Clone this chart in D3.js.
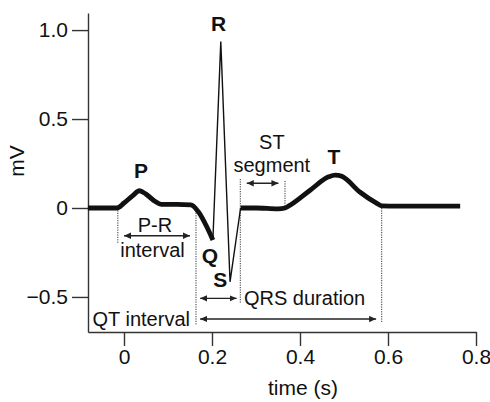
<!DOCTYPE html>
<html>
<head>
<meta charset="utf-8">
<script src="https://cdn.jsdelivr.net/npm/d3@7"></script>
<style>
  html, body { margin: 0; padding: 0; background: #fff; }
  svg { display: block; }
  text { font-family: "Liberation Sans", Arial, Helvetica, sans-serif; fill: #111; }
</style>
</head>
<body>
<svg id="chart" width="490" height="402"></svg>
<script>
// ---- data ----
// P wave + PR segment + Q descent (thick trace)
const pqTime = [-0.082, -0.016, 0.0, 0.02, 0.035, 0.05, 0.07, 0.085, 0.12, 0.152, 0.17, 0.187, 0.202];
const pqMv   = [0, 0, 0.028, 0.07, 0.097, 0.078, 0.038, 0.02, 0.02, 0.018, -0.025, -0.1, -0.18];
// QRS complex (thin trace)
const qrsTime = [0.202, 0.22, 0.241, 0.265];
const qrsMv   = [-0.18, 0.935, -0.415, 0.0];
// ST segment + T wave (thick trace)
const stTime = [0.265, 0.3, 0.35, 0.366, 0.38, 0.423, 0.465, 0.48, 0.495, 0.536, 0.572, 0.586, 0.62, 0.764];
const stMv   = [0.0, 0.0, -0.005, 0.0, 0.02, 0.1, 0.175, 0.185, 0.178, 0.09, 0.03, 0.012, 0.01, 0.01];

const xTicks = [0, 0.2, 0.4, 0.6, 0.8];
const xTickLabels = ["0", "0.2", "0.4", "0.6", "0.8"];
const yTicks = [-0.5, 0, 0.5, 1.0];
const yTickLabels = ["\u22120.5", "0", "0.5", "1.0"];

// wave labels
const waveNames = ["P", "Q", "R", "S", "T"];
const waveTime  = [0.0386, 0.1955, 0.2148, 0.219, 0.477];
const waveMv    = [0.169, -0.309, 0.995, -0.444, 0.247];

// dotted markers (time, top mV, bottom mV)
const markTime   = [-0.014, 0.1636, 0.2643, 0.3659, 0.5857];
const markTopMv  = [0, 0, 0.163, 0.152, 0];
const markBotMv  = [-0.197, -0.658, -0.534, 0, -0.646];

// interval arrows (start time, end time, mV level)
const arrowStart = [0.0, 0.279, 0.173, 0.173];
const arrowEnd   = [0.15, 0.351, 0.256, 0.573];
const arrowMv    = [-0.156, 0.139, -0.508, -0.624];

// ---- drawing ----
const svg = d3.select("#chart");
const x = d3.scaleLinear().domain([-0.0818, 0.8]).range([88, 476]);
const y = d3.scaleLinear().domain([-0.697, 1.096]).range([332, 13]);

const axisColor = "#333";
const FS = 21;   // tick labels, axis titles
const FA = 20;   // annotations

// axes
const gx = svg.append("g").attr("transform", `translate(0,${y.range()[0]})`)
  .call(d3.axisBottom(x).tickValues(xTicks).tickFormat((d, i) => xTickLabels[i])
    .tickSize(14).tickSizeOuter(0).tickPadding(3));
const gy = svg.append("g").attr("transform", `translate(${x.range()[0]},0)`)
  .call(d3.axisLeft(y).tickValues(yTicks).tickFormat((d, i) => yTickLabels[i])
    .tickSize(16).tickSizeOuter(0).tickPadding(4));
[gx, gy].forEach(g => {
  g.select(".domain").attr("stroke", axisColor).attr("stroke-width", 1.4);
  g.selectAll(".tick line").attr("stroke", axisColor).attr("stroke-width", 1.4);
  g.selectAll(".tick text").attr("font-size", FS).attr("fill", "#111")
    .attr("font-family", '"Liberation Sans", Arial, Helvetica, sans-serif');
});

// axis titles
svg.append("text").attr("x", 303).attr("y", 395).attr("text-anchor", "middle")
  .attr("font-size", FS).text("time (s)");
svg.append("text").attr("transform", "translate(24,161) rotate(-90)")
  .attr("text-anchor", "middle").attr("font-size", FS).text("mV");

// dotted markers
svg.append("g").selectAll("line").data(markTime).join("line")
  .attr("x1", d => x(d)).attr("x2", d => x(d))
  .attr("y1", (d, i) => y(markTopMv[i])).attr("y2", (d, i) => y(markBotMv[i]))
  .attr("stroke", "#333").attr("stroke-width", 1).attr("stroke-dasharray", "1.2,1.2");

// arrow marker
const defs = svg.append("defs");
defs.append("marker").attr("id", "ah").attr("viewBox", "0 0 10 10")
  .attr("refX", 10).attr("refY", 5).attr("markerWidth", 7).attr("markerHeight", 7)
  .attr("markerUnits", "userSpaceOnUse").attr("orient", "auto-start-reverse")
  .append("path").attr("d", "M0,0.5 L10,5 L0,9.5 Z").attr("fill", "#222");

svg.append("g").selectAll("line").data(arrowStart).join("line")
  .attr("x1", d => x(d)).attr("x2", (d, i) => x(arrowEnd[i]))
  .attr("y1", (d, i) => y(arrowMv[i])).attr("y2", (d, i) => y(arrowMv[i]))
  .attr("stroke", "#222").attr("stroke-width", 1.3)
  .attr("marker-start", "url(#ah)").attr("marker-end", "url(#ah)");

// traces
const line = d3.line().x(d => x(d[0])).y(d => y(d[1]));
const smooth = d3.line().x(d => x(d[0])).y(d => y(d[1])).curve(d3.curveMonotoneX);
const zipP = (t, v) => t.map((d, i) => [d, v[i]]);

svg.append("path").datum(zipP(qrsTime, qrsMv)).attr("d", line)
  .attr("fill", "none").attr("stroke", "#111").attr("stroke-width", 1.4).attr("stroke-linejoin", "miter");
svg.append("path").datum(zipP(pqTime, pqMv)).attr("d", smooth)
  .attr("fill", "none").attr("stroke", "#111").attr("stroke-width", 4.8)
  .attr("stroke-linejoin", "round").attr("stroke-linecap", "butt");
svg.append("path").datum(zipP(stTime, stMv)).attr("d", smooth)
  .attr("fill", "none").attr("stroke", "#111").attr("stroke-width", 4.8)
  .attr("stroke-linejoin", "round").attr("stroke-linecap", "butt");

// wave labels
svg.append("g").selectAll("text").data(waveNames).join("text")
  .attr("x", (d, i) => x(waveTime[i])).attr("y", (d, i) => y(waveMv[i]))
  .attr("text-anchor", "middle").attr("font-size", FS).attr("font-weight", "bold").text(d => d);

// interval labels
const ann = [
  { t: "ST", tx: 0.336, mv: 0.332, anchor: "middle" },
  { t: "segment", tx: 0.336, mv: 0.202, anchor: "middle" },
  { t: "P-R", tx: 0.0705, mv: -0.135, anchor: "middle" },
  { t: "interval", tx: 0.0648, mv: -0.273, anchor: "middle" },
  { t: "QRS duration", tx: 0.2727, mv: -0.545, anchor: "start" },
  { t: "QT interval", tx: 0.15, mv: -0.663, anchor: "end" }
];
svg.append("g").selectAll("text").data(ann).join("text")
  .attr("x", d => x(d.tx)).attr("y", d => y(d.mv))
  .attr("text-anchor", d => d.anchor).attr("font-size", FA).text(d => d.t);
</script>
</body>
</html>
